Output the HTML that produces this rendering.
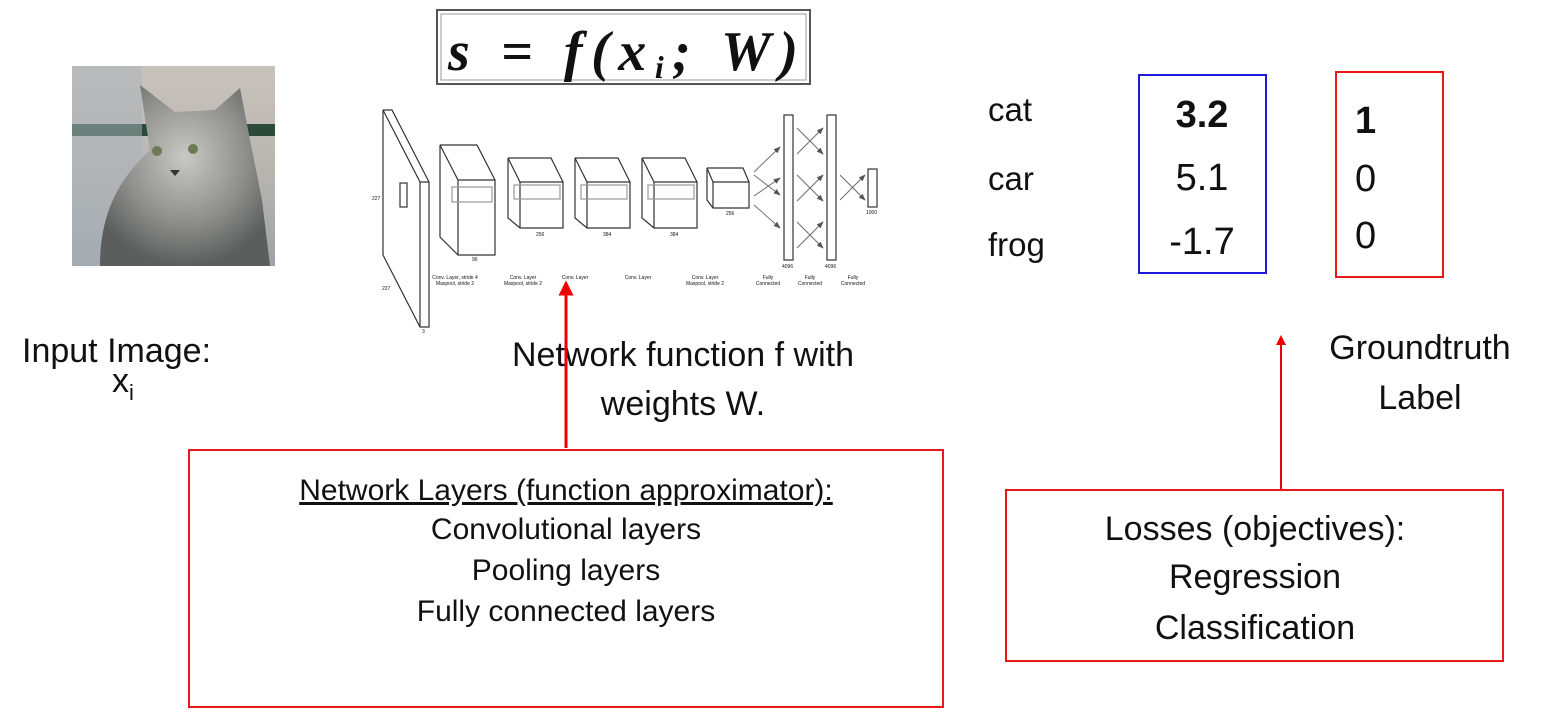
<!DOCTYPE html>
<html><head><meta charset="utf-8"><style>
html,body{margin:0;padding:0;background:#fff;}
svg{display:block;}
text{font-family:"Liberation Sans",sans-serif;fill:#111;}
</style></head><body>
<svg width="1545" height="723" viewBox="0 0 1545 723">
<defs>
<marker id="ar" markerWidth="8" markerHeight="8" refX="7" refY="4" orient="auto"><path d="M0,1 L8,4 L0,7z" fill="#555"/></marker>
<marker id="rar" markerWidth="5" markerHeight="5" refX="2.5" refY="2.5" orient="auto"><path d="M0,0 L5,2.5 L0,5z" fill="#e00"/></marker>
<linearGradient id="bg" x1="0" y1="0" x2="0" y2="1"><stop offset="0" stop-color="#c9c2bc"/><stop offset="0.55" stop-color="#b7b4b0"/><stop offset="1" stop-color="#9ea3a8"/></linearGradient>
<radialGradient id="cat" cx="0.5" cy="0.4" r="0.6"><stop offset="0" stop-color="#c8c8c4"/><stop offset="0.6" stop-color="#8e8f8c"/><stop offset="1" stop-color="#5c5e5e"/></radialGradient>
</defs>

<g>
<rect x="72" y="66" width="203" height="200" fill="url(#bg)"/>
<rect x="72" y="124" width="203" height="12" fill="#2c4a3a"/>
<rect x="72" y="66" width="70" height="200" fill="#a9b3bb" opacity="0.5"/>
<path d="M100,266 C100,200 130,170 150,150 L140,85 L175,112 L215,110 L240,88 L250,140 L262,200 L270,266 Z" fill="url(#cat)"/>
<circle cx="157" cy="151" r="5" fill="#6d7a55"/><circle cx="193" cy="149" r="5" fill="#6d7a55"/>
<path d="M170,170 l10,0 l-5,6z" fill="#333"/>
</g>

<g>
<rect x="437" y="10" width="373" height="74" fill="#fff" stroke="#555" stroke-width="2"/>
<rect x="441" y="14" width="365" height="66" fill="none" stroke="#999" stroke-width="1"/>
<text x="448" y="70" textLength="350" lengthAdjust="spacing" style="font-family:'Liberation Serif',serif;font-style:italic;font-weight:bold;font-size:56px;">s = f(x<tspan font-size="32" dy="8">i</tspan><tspan dy="-8">; W)</tspan></text>
</g>

<g fill="none" stroke="#333" stroke-width="1.2">
<path d="M383,110 L420,182 L429,182 L429,327 L420,327 L383,255 Z M420,182 L420,327 M383,110 L392,110 L429,182"/>
<rect x="400" y="183" width="7" height="24" />
<path d="M440,145 L458,180 L495,180 L495,255 L458,255 L440,237 Z M458,180 L458,255 M440,145 L477,145 L495,180"/>
<rect x="452" y="187" width="40" height="15" stroke="#999"/>
<path d="M508,158 L520,182 L563,182 L563,228 L520,228 L508,218 Z M520,182 L520,228 M508,158 L551,158 L563,182"/>
<rect x="514" y="185" width="46" height="14" stroke="#999"/>
<path d="M575,158 L587,182 L630,182 L630,228 L587,228 L575,218 Z M587,182 L587,228 M575,158 L618,158 L630,182"/>
<rect x="581" y="185" width="46" height="14" stroke="#999"/>
<path d="M642,158 L654,182 L697,182 L697,228 L654,228 L642,218 Z M654,182 L654,228 M642,158 L685,158 L697,182"/>
<rect x="648" y="185" width="46" height="14" stroke="#999"/>
<path d="M707,168 L713,182 L749,182 L749,208 L713,208 L707,200 Z M713,182 L713,208 M707,168 L743,168 L749,182"/>
<rect x="784" y="115" width="9" height="145"/>
<rect x="827" y="115" width="9" height="145"/>
<rect x="868" y="169" width="9" height="38"/>
<g stroke="#666" stroke-width="0.9" marker-end="url(#ar)">
<line x1="754" y1="172" x2="780" y2="147"/><line x1="754" y1="175" x2="780" y2="195"/>
<line x1="754" y1="196" x2="780" y2="178"/><line x1="754" y1="205" x2="780" y2="228"/>
<line x1="797" y1="128" x2="823" y2="154"/><line x1="797" y1="154" x2="823" y2="128"/>
<line x1="797" y1="175" x2="823" y2="201"/><line x1="797" y1="201" x2="823" y2="175"/>
<line x1="797" y1="222" x2="823" y2="248"/><line x1="797" y1="248" x2="823" y2="222"/>
<line x1="840" y1="175" x2="865" y2="200"/><line x1="840" y1="200" x2="865" y2="175"/>
</g>
</g>
<g fill="#333">
<text x="372" y="200" font-size="5">227</text><text x="382" y="290" font-size="5">227</text>
<text x="422" y="333" font-size="5">3</text><text x="472" y="261" font-size="5">96</text>
<text x="536" y="236" font-size="5">256</text><text x="603" y="236" font-size="5">384</text>
<text x="670" y="236" font-size="5">384</text><text x="726" y="215" font-size="5">256</text>
<text x="782" y="268" font-size="5">4096</text><text x="825" y="268" font-size="5">4096</text>
<text x="866" y="214" font-size="5">1000</text>
<text x="455" y="279" font-size="5" text-anchor="middle">Conv. Layer, stride 4</text>
<text x="455" y="285" font-size="5" text-anchor="middle">Maxpool, stride 2</text>
<text x="523" y="279" font-size="5" text-anchor="middle">Conv. Layer</text>
<text x="523" y="285" font-size="5" text-anchor="middle">Maxpool, stride 2</text>
<text x="575" y="279" font-size="5" text-anchor="middle">Conv. Layer</text>
<text x="638" y="279" font-size="5" text-anchor="middle">Conv. Layer</text>
<text x="705" y="279" font-size="5" text-anchor="middle">Conv. Layer</text>
<text x="705" y="285" font-size="5" text-anchor="middle">Maxpool, stride 2</text>
<text x="768" y="279" font-size="5" text-anchor="middle">Fully</text><text x="768" y="285" font-size="5" text-anchor="middle">Connected</text>
<text x="810" y="279" font-size="5" text-anchor="middle">Fully</text><text x="810" y="285" font-size="5" text-anchor="middle">Connected</text>
<text x="853" y="279" font-size="5" text-anchor="middle">Fully</text><text x="853" y="285" font-size="5" text-anchor="middle">Connected</text>
</g>

<g style="font-size:33px">
<text x="988" y="121">cat</text><text x="988" y="190">car</text><text x="988" y="256">frog</text>
</g>
<rect x="1139" y="75" width="127" height="198" fill="none" stroke="#1a1ad8" stroke-width="2"/>
<g text-anchor="middle" style="font-size:38px">
<text x="1202" y="127" font-weight="bold">3.2</text><text x="1202" y="190">5.1</text><text x="1202" y="254">-1.7</text>
</g>
<rect x="1336" y="72" width="107" height="205" fill="none" stroke="#e81818" stroke-width="2"/>
<g style="font-size:38px">
<text x="1355" y="133" font-weight="bold">1</text><text x="1355" y="191">0</text><text x="1355" y="248">0</text>
</g>

<g style="font-size:34px">
<text x="22" y="362">Input Image:</text>
<text x="112" y="392">x<tspan font-size="22" dy="8">i</tspan></text>
<text x="683" y="366" text-anchor="middle">Network function f with</text>
<text x="683" y="415" text-anchor="middle">weights W.</text>
<text x="1420" y="359" text-anchor="middle">Groundtruth</text>
<text x="1420" y="409" text-anchor="middle">Label</text>
</g>

<line x1="566" y1="448" x2="566" y2="288" stroke="#e00" stroke-width="3" marker-end="url(#rar)"/>
<line x1="1281" y1="490" x2="1281" y2="340" stroke="#e00" stroke-width="2" marker-end="url(#rar)"/>

<g>
<rect x="189" y="450" width="754" height="257" fill="none" stroke="#e81818" stroke-width="2"/>
<g text-anchor="middle" style="font-size:30px">
<text x="566" y="500" text-decoration="underline">Network Layers (function approximator):</text>
<text x="566" y="539">Convolutional layers</text>
<text x="566" y="580">Pooling layers</text>
<text x="566" y="621">Fully connected layers</text>
</g></g>
<g>
<rect x="1006" y="490" width="497" height="171" fill="none" stroke="#e81818" stroke-width="2"/>
<g text-anchor="middle" style="font-size:34px">
<text x="1255" y="540">Losses (objectives):</text>
<text x="1255" y="588">Regression</text>
<text x="1255" y="639">Classification</text>
</g></g>
</svg>
</body></html>
